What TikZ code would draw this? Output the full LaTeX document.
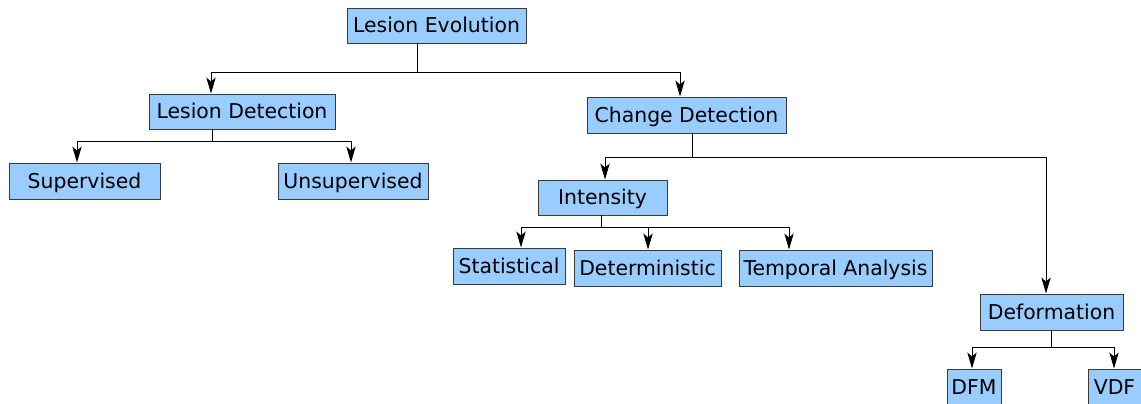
\documentclass[tikz,border=0pt]{standalone}
\usepackage{fontspec}
\setmainfont{DejaVu Sans}
\usetikzlibrary{arrows.meta}
\definecolor{boxfill}{HTML}{99CCFF}
\definecolor{boxline}{HTML}{3A3A3A}
\begin{document}
\begin{tikzpicture}[x=0.75pt,y=-0.75pt,
  box/.style={draw=boxline, line width=0.7pt, fill=boxfill, inner sep=0pt,
    font=\fontsize{15.3pt}{18pt}\selectfont, text height=11.2pt, text depth=0pt},
  conn/.style={draw=black, line width=0.75pt},
  arr/.style={conn, -{Stealth[length=12pt,width=7pt,inset=3pt]}}]
\useasboundingbox (0,0) rectangle (1141,403);
% nodes
\node[box, minimum width=179*0.75pt, minimum height=35*0.75pt] (le) at (436.5,25.5) {Lesion Evolution};
\node[box, minimum width=186*0.75pt, minimum height=35*0.75pt] (ld) at (242,111.5) {Lesion Detection};
\node[box, minimum width=199*0.75pt, minimum height=36*0.75pt] (cd) at (686.5,115) {Change Detection};
\node[box, minimum width=151*0.75pt, minimum height=36*0.75pt] (sup) at (84.5,181) {Supervised};
\node[box, minimum width=150*0.75pt, minimum height=36*0.75pt] (uns) at (353,181) {Unsupervised};
\node[box, minimum width=129*0.75pt, minimum height=35*0.75pt] (int) at (602.5,197.5) {Intensity};
\node[box, minimum width=112*0.75pt, minimum height=36*0.75pt] (sta) at (509,266) {Statistical};
\node[box, minimum width=147*0.75pt, minimum height=36*0.75pt] (det) at (647.5,268) {Deterministic};
\node[box, minimum width=193*0.75pt, minimum height=36*0.75pt] (tem) at (835.5,268) {Temporal Analysis};
\node[box, minimum width=143*0.75pt, minimum height=36*0.75pt] (def) at (1051.5,312) {Deformation};
\node[box, minimum width=54*0.75pt, minimum height=36*0.75pt] (dfm) at (974,387) {DFM};
\node[box, minimum width=53*0.75pt, minimum height=36*0.75pt] (vdf) at (1114.5,387) {VDF};
% junctions and arrow x positions
\coordinate (j1) at (417,73);
\coordinate (x1a) at (211,0);
\coordinate (x1b) at (680,0);
\coordinate (j2) at (212,141);
\coordinate (x2a) at (77,0);
\coordinate (x2b) at (351,0);
\coordinate (j3) at (692,157);
\coordinate (x3a) at (605,0);
\coordinate (x3b) at (1046,0);
\coordinate (j4) at (601,227);
\coordinate (x4a) at (521,0);
\coordinate (x4b) at (648,0);
\coordinate (x4c) at (789,0);
\coordinate (j5) at (1051,347);
\coordinate (x5a) at (972,0);
\coordinate (x5b) at (1114,0);
% connectors
\draw[conn] (le.south -| j1) -- (j1);
\draw[arr] (j1) -| (ld.north -| x1a);
\draw[arr] (j1) -| (cd.north -| x1b);
\draw[conn] (ld.south -| j2) -- (j2);
\draw[arr] (j2) -| (sup.north -| x2a);
\draw[arr] (j2) -| (uns.north -| x2b);
\draw[conn] (cd.south -| j3) -- (j3);
\draw[arr] (j3) -| (int.north -| x3a);
\draw[arr] (j3) -| (def.north -| x3b);
\draw[conn] (int.south -| j4) -- (j4);
\draw[arr] (j4) -| (sta.north -| x4a);
\draw[arr] (j4 -| x4b) -- (det.north -| x4b);
\draw[arr] (j4) -| (tem.north -| x4c);
\draw[conn] (def.south -| j5) -- (j5);
\draw[arr] (j5) -| (dfm.north -| x5a);
\draw[arr] (j5) -| (vdf.north -| x5b);
\end{tikzpicture}
\end{document}
